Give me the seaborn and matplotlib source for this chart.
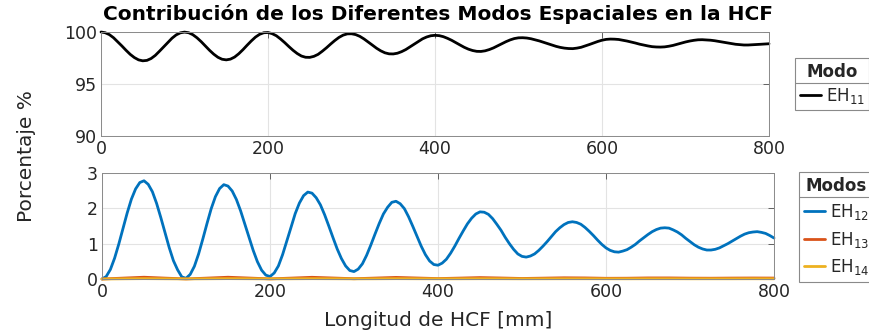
import numpy as np
import pandas as pd
import matplotlib
matplotlib.use("Agg")
import matplotlib.pyplot as plt
import seaborn as sns
from matplotlib.lines import Line2D

# ---------------- data ----------------
x_main = list(range(0, 801, 5))  # Longitud de HCF [mm]

eh11 = [100.00, 99.93, 99.75, 99.45, 99.06, 98.66, 98.24, 97.85, 97.54, 97.32,
        97.23, 97.27, 97.45, 97.75, 98.15, 98.57, 99.00, 99.40, 99.72, 99.92,
        99.99, 99.93, 99.74, 99.44, 99.07, 98.66, 98.24, 97.87, 97.57, 97.38,
        97.32, 97.39, 97.59, 97.91, 98.30, 98.73, 99.14, 99.51, 99.78, 99.93,
        99.95, 99.84, 99.64, 99.33, 98.98, 98.60, 98.24, 97.93, 97.69, 97.57,
        97.56, 97.66, 97.85, 98.15, 98.48, 98.84, 99.18, 99.48, 99.70, 99.82,
        99.83, 99.75, 99.58, 99.33, 99.04, 98.74, 98.44, 98.19, 98.00, 97.90,
        97.89, 97.96, 98.11, 98.31, 98.57, 98.83, 99.10, 99.34, 99.52, 99.64,
        99.68, 99.65, 99.55, 99.39, 99.20, 98.97, 98.75, 98.53, 98.35, 98.22,
        98.14, 98.13, 98.19, 98.31, 98.47, 98.67, 98.87, 99.07, 99.24, 99.37,
        99.44, 99.45, 99.42, 99.35, 99.25, 99.14, 99.01, 98.87, 98.74, 98.62,
        98.52, 98.45, 98.41, 98.40, 98.45, 98.53, 98.66, 98.80, 98.95, 99.09,
        99.21, 99.29, 99.32, 99.31, 99.28, 99.21, 99.13, 99.04, 98.94, 98.83,
        98.74, 98.66, 98.59, 98.56, 98.55, 98.57, 98.63, 98.71, 98.82, 98.93,
        99.04, 99.13, 99.20, 99.25, 99.26, 99.24, 99.21, 99.16, 99.09, 99.02,
        98.95, 98.88, 98.82, 98.78, 98.75, 98.75, 98.77, 98.79, 98.82, 98.85,
        98.87]

eh12 = [0.00, 0.07, 0.27, 0.59, 0.99, 1.43, 1.87, 2.26, 2.55, 2.73,
        2.78, 2.68, 2.47, 2.14, 1.74, 1.31, 0.89, 0.52, 0.26, 0.06,
        0.02, 0.13, 0.36, 0.71, 1.13, 1.57, 1.99, 2.33, 2.56, 2.67,
        2.63, 2.49, 2.25, 1.93, 1.56, 1.18, 0.81, 0.49, 0.25, 0.11,
        0.07, 0.17, 0.37, 0.69, 1.07, 1.46, 1.85, 2.15, 2.36, 2.46,
        2.43, 2.30, 2.10, 1.82, 1.50, 1.17, 0.85, 0.58, 0.37, 0.24,
        0.21, 0.28, 0.43, 0.67, 0.96, 1.27, 1.57, 1.84, 2.03, 2.17,
        2.20, 2.13, 1.99, 1.76, 1.49, 1.21, 0.93, 0.69, 0.51, 0.41,
        0.39, 0.45, 0.56, 0.73, 0.93, 1.15, 1.36, 1.56, 1.72, 1.84,
        1.90, 1.89, 1.83, 1.71, 1.55, 1.38, 1.18, 1.00, 0.84, 0.71,
        0.64, 0.62, 0.65, 0.71, 0.81, 0.93, 1.06, 1.20, 1.34, 1.45,
        1.54, 1.60, 1.62, 1.60, 1.55, 1.46, 1.35, 1.23, 1.10, 0.98,
        0.88, 0.81, 0.77, 0.76, 0.79, 0.83, 0.90, 0.98, 1.08, 1.17,
        1.26, 1.34, 1.40, 1.44, 1.45, 1.44, 1.39, 1.33, 1.25, 1.15,
        1.06, 0.97, 0.90, 0.85, 0.82, 0.82, 0.84, 0.88, 0.94, 1.00,
        1.07, 1.14, 1.21, 1.27, 1.31, 1.33, 1.34, 1.32, 1.29, 1.23,
        1.16]

x_small = list(range(0, 801, 25))
eh13 = [0.000, 0.025, 0.050, 0.025, 0.002, 0.025, 0.050, 0.027, 0.004, 0.025,
        0.048, 0.028, 0.008, 0.026, 0.045, 0.028, 0.012, 0.025, 0.040, 0.028,
        0.015, 0.024, 0.034, 0.030, 0.020, 0.022, 0.030, 0.030, 0.024, 0.022,
        0.026, 0.028, 0.026]
eh14 = [0.000, 0.005, 0.010, 0.006, 0.002, 0.006, 0.010, 0.007, 0.003, 0.006,
        0.009, 0.007, 0.004, 0.006, 0.009, 0.007, 0.005, 0.006, 0.008, 0.007,
        0.005, 0.006, 0.007, 0.007, 0.006, 0.006, 0.007, 0.007, 0.006, 0.006,
        0.006, 0.007, 0.006]

x_ticks = [0, 200, 400, 600, 800]
top_yticks = [90, 95, 100]
bot_yticks = [0, 1, 2, 3]

title = "Contribución de los Diferentes Modos Espaciales en la HCF"
ylabel = "Porcentaje %"
xlabel = "Longitud de HCF [mm]"
labels_top = ["EH$_{11}$"]
labels_bot = ["EH$_{12}$", "EH$_{13}$", "EH$_{14}$"]

df_main = pd.DataFrame({"x": x_main, "EH11": eh11, "EH12": eh12})
df_small = pd.DataFrame({"x": x_small, "EH13": eh13, "EH14": eh14})

# ---------------- style ----------------
sns.set_theme(style="white")
plt.rcParams["font.family"] = ["DejaVu Sans"]
plt.rcParams["mathtext.fontset"] = "dejavusans"

W, H = 869, 335
fig = plt.figure(figsize=(W / 100, H / 100), dpi=100)

def px_axes(l, r, t, b):
    return fig.add_axes([l / W, 1 - b / H, (r - l) / W, (b - t) / H])

ax1 = px_axes(101, 769, 32, 136)
ax2 = px_axes(102, 774, 173, 279)

c_blue, c_orange, c_yellow = "#0072BD", "#D95319", "#EDB120"
lw = 2.0

sns.lineplot(data=df_main, x="x", y="EH11", ax=ax1, color="black", lw=lw, legend=False)
sns.lineplot(data=df_main, x="x", y="EH12", ax=ax2, color=c_blue, lw=lw, legend=False)
sns.lineplot(data=df_small, x="x", y="EH13", ax=ax2, color=c_orange, lw=lw, legend=False)
sns.lineplot(data=df_small, x="x", y="EH14", ax=ax2, color=c_yellow, lw=lw, legend=False)

for ln in ax1.lines + ax2.lines:
    ln.set_clip_on(False)

tick_col = "#262626"
for ax, yt in ((ax1, top_yticks), (ax2, bot_yticks)):
    ax.set_xlim(0, 800)
    ax.set_ylim(yt[0], yt[-1])
    ax.set_xticks(x_ticks)
    ax.set_yticks(yt)
    ax.set_xlabel("")
    ax.set_ylabel("")
    ax.grid(True, color="#e3e3e3", lw=0.8)
    ax.set_axisbelow(True)
    ax.tick_params(direction="in", length=4, width=0.6, colors="#4d4d4d",
                   labelcolor=tick_col, labelsize=12.5, top=True, right=True, pad=3)
    for sp in ax.spines.values():
        sp.set_color("#8a8a8a")
        sp.set_linewidth(0.7)

fig.text(438 / W, 1 - 14 / H, title, ha="center", va="center",
         fontsize=14.5, fontweight="bold", color="black")
fig.text(26 / W, 1 - 156 / H, ylabel, ha="center", va="center", rotation=90,
         fontsize=14.5, color=tick_col)
fig.text(438 / W, 1 - 320 / H, xlabel, ha="center", va="center",
         fontsize=14.5, color=tick_col)

def make_legend(ax, handles, labels, ttl, anchor_px, spacing):
    leg = ax.legend(handles, labels, title=ttl, loc="upper left",
                    bbox_to_anchor=(anchor_px[0] / W, 1 - anchor_px[1] / H),
                    bbox_transform=fig.transFigure, borderaxespad=0,
                    fancybox=False, frameon=True, fontsize=12, title_fontsize=12,
                    handlelength=1.25, handletextpad=0.3, borderpad=0.28,
                    labelspacing=spacing, framealpha=1)
    leg.get_title().set_fontweight("bold")
    leg.get_frame().set_edgecolor("#8a8a8a")
    leg.get_frame().set_linewidth(0.8)
    return leg

leg1 = make_legend(ax1, ax1.lines[:1], labels_top, "Modo", (795, 58), 0.3)
leg2 = make_legend(ax2, ax2.lines[:3], labels_bot, "Modos", (799, 172), 0.45)

# separator line between legend title and entries
fig.canvas.draw()
inv = fig.transFigure.inverted()
for leg in (leg1, leg2):
    fb = leg.get_frame().get_window_extent()
    tb = leg.get_title().get_window_extent()
    y = tb.y0 - 2
    (x0, yy0) = inv.transform((fb.x0, y))
    (x1, yy1) = inv.transform((fb.x1, y))
    fig.add_artist(Line2D([x0, x1], [yy0, yy1], color="#8a8a8a", lw=0.8,
                          transform=fig.transFigure))

fig.savefig("out.png", dpi=100)
